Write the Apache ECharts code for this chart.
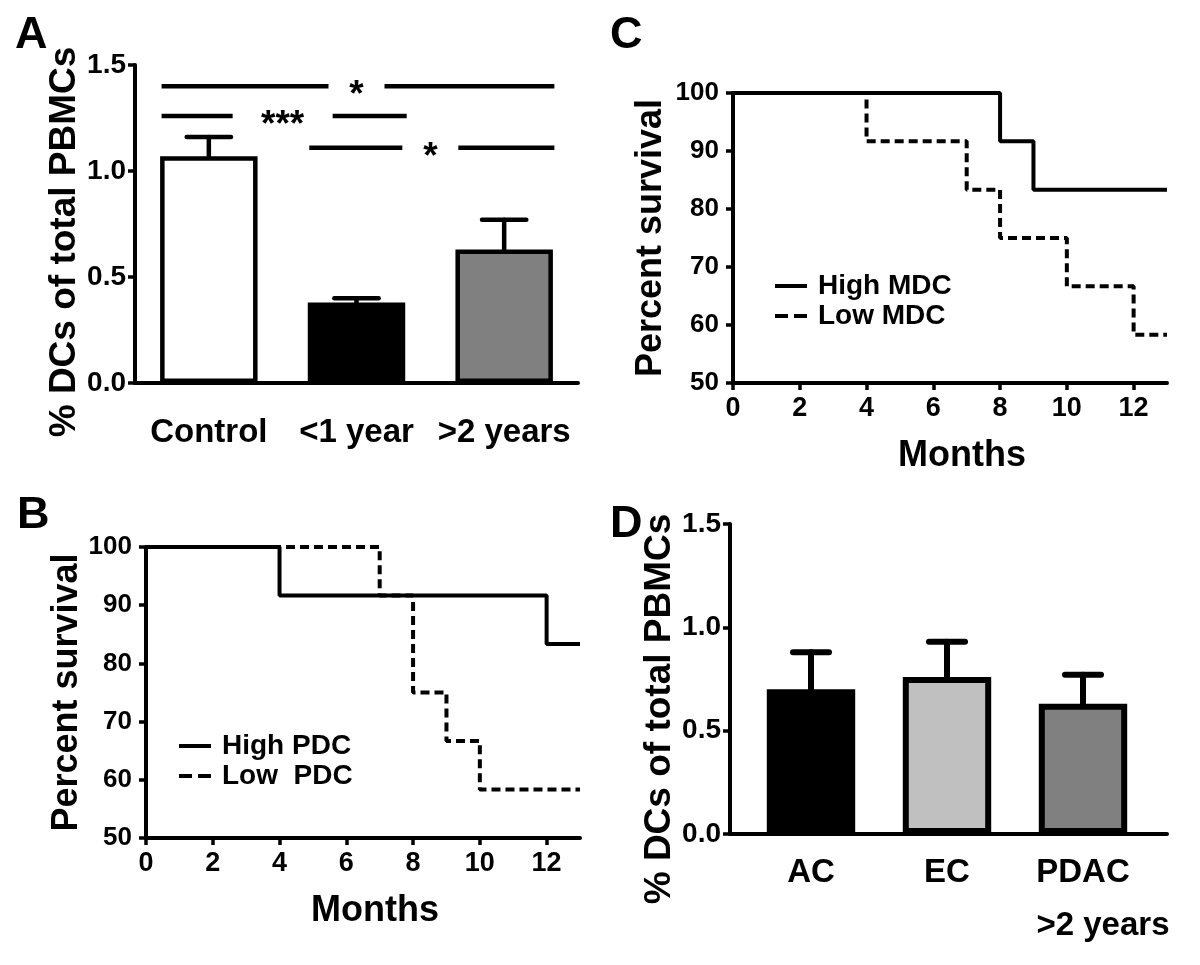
<!DOCTYPE html>
<html><head><meta charset="utf-8">
<script src="https://cdn.jsdelivr.net/npm/echarts@6/dist/echarts.min.js"></script>
<style>html,body{margin:0;padding:0;background:#fff}#c{width:1200px;height:965px}</style>
</head><body><div id="c"></div>
<script>
// ---------- Panel A data ----------
const catsA = ['Control', '<1 year', '>2 years'];
const meanA = [1.07, 0.38, 0.63];
const semA = [0.09, 0.02, 0.14];
const sigFrom = [0, 0, 1];
const sigTo = [2, 1, 2];
const sigY = [1.40, 1.26, 1.11];
const sigText = ['*', '***', '*'];
// ---------- Panel D data ----------
const catsD = ['AC', 'EC', 'PDAC'];
const catsDSub = ['', '', '>2 years'];
const meanD = [0.70, 0.76, 0.63];
const semD = [0.18, 0.17, 0.14];
// ---------- Panel B data (Kaplan-Meier: [month, % survival]) ----------
const highPDC = [[0, 100], [4, 91.67], [12, 83.33], [13, 83.33]];
const lowPDC = [[0, 100], [7, 91.67], [8, 75], [9, 66.67], [10, 58.33], [13, 58.33]];
// ---------- Panel C data ----------
const highMDC = [[0, 100], [8, 91.67], [9, 83.33], [13, 83.33]];
const lowMDC = [[0, 100], [4, 91.67], [7, 83.33], [8, 75], [10, 66.67], [12, 58.33], [13, 58.33]];
// ---------- ticks ----------
const monthTicks = [0, 2, 4, 6, 8, 10, 12];
const pctTicks = [0, 0.5, 1.0, 1.5];
const survTicks = [50, 60, 70, 80, 90, 100];

// ---------- styles ----------
const FONT = '"Liberation Sans", Arial, Helvetica, sans-serif';
const barColorsA = ['#ffffff', '#000000', '#808080'];
const barColorsD = ['#000000', '#c0c0c0', '#808080'];
const SOLID_ICON = 'rect';
const DASH_ICON = 'path://M0,0H13V4H0Z M19,0H32V4H19Z';

const chart = echarts.init(document.getElementById('c'), null, {renderer: 'canvas'});

function txt(size, extra) {
  return Object.assign({color: '#000', fontFamily: FONT, fontWeight: 'bold', fontSize: size}, extra || {});
}

function errRender(capFrac, lw) {
  return function (params, api) {
    const x = api.value(0), m = api.value(1), e = api.value(2);
    const p0 = api.coord([x, m]);
    const p1 = api.coord([x, m + e]);
    const half = api.size([1, 0])[0] * capFrac / 2;
    const st = {stroke: '#000', lineWidth: lw, lineCap: 'round'};
    return {type: 'group', children: [
      {type: 'line', shape: {x1: p0[0], y1: p0[1], x2: p1[0], y2: p1[1]}, style: st},
      {type: 'line', shape: {x1: p1[0] - half, y1: p1[1], x2: p1[0] + half, y2: p1[1]}, style: st}
    ]};
  };
}

function sigRender(params, api) {
  const i = params.dataIndex;
  const a = api.coord([sigFrom[i], sigY[i]]);
  const b = api.coord([sigTo[i], sigY[i]]);
  const band = api.size([1, 0])[0];
  const x1 = a[0] - band * 0.32;
  const x2 = b[0] + band * 0.34;
  const cx = (a[0] + b[0]) / 2;
  const half = 17 + 11 * sigText[i].length;
  const y = a[1];
  const st = {stroke: '#000', lineWidth: 4.5};
  return {type: 'group', children: [
    {type: 'line', shape: {x1: x1, y1: y, x2: cx - half, y2: y}, style: st},
    {type: 'line', shape: {x1: cx + half, y1: y, x2: x2, y2: y}, style: st},
    {type: 'text', style: {text: sigText[i], x: cx, y: y + 10, align: 'center', verticalAlign: 'middle',
      fill: '#000', font: 'bold 37px ' + FONT}}
  ]};
}

const axisLine = {show: true, onZero: false, lineStyle: {color: '#000', width: 4}};
const yTick = {show: true, inside: false, length: 7, lineStyle: {color: '#000', width: 3.5}};

function survX(grid) {
  return {type: 'value', gridIndex: grid, min: 0, max: 13, name: 'Months', nameLocation: 'middle', nameGap: 55,
    nameTextStyle: txt(36, {padding: [0, 0, 0, 24]}),
    axisLine: axisLine, splitLine: {show: false},
    axisTick: {show: true, length: 7, lineStyle: {color: '#000', width: 3.5}, customValues: monthTicks},
    axisLabel: Object.assign(txt(27), {margin: 12, customValues: monthTicks})};
}
function survY(grid, gap) {
  return {type: 'value', gridIndex: grid, min: 50, max: 100, interval: 10, name: 'Percent survival',
    nameLocation: 'middle', nameRotate: 90, nameGap: gap, nameTextStyle: txt(36),
    axisLine: axisLine, splitLine: {show: false}, axisTick: Object.assign({customValues: survTicks}, yTick),
    axisLabel: Object.assign(txt(26), {margin: 14, customValues: survTicks})};
}
function pctY(grid, gap, show, shift) {
  return {type: 'value', gridIndex: grid, min: 0, max: 1.5, interval: 0.5, show: show,
    name: show ? '% DCs of total PBMCs' : '', nameLocation: 'middle', nameRotate: 90, nameGap: gap,
    nameTextStyle: txt(37, {padding: [0, shift, 0, 0]}),
    axisLine: axisLine, splitLine: {show: false}, axisTick: Object.assign({customValues: pctTicks}, yTick),
    axisLabel: Object.assign(txt(28), {margin: 9, customValues: pctTicks, formatter: v => v.toFixed(1)})};
}

const legendCommon = {orient: 'vertical', itemWidth: 32, itemHeight: 4, itemGap: 0,
  textStyle: txt(28, {lineHeight: 30, padding: [0, 0, 0, 6]}), selectedMode: false};

const option = {
  animation: false,
  backgroundColor: '#fff',
  textStyle: {fontFamily: FONT},
  title: [
    {text: 'A', left: 10, top: 8, textStyle: txt(45)},
    {text: 'B', left: 12, top: 488, textStyle: txt(45)},
    {text: 'C', left: 605, top: 8, textStyle: txt(45)},
    {text: 'D', left: 605, top: 497, textStyle: txt(45)}
  ],
  legend: [
    Object.assign({data: [{name: 'High MDC', icon: SOLID_ICON}, {name: 'Low MDC', icon: DASH_ICON}],
      left: 770, top: 266}, legendCommon),
    Object.assign({data: [{name: 'High PDC', icon: SOLID_ICON}, {name: 'Low  PDC', icon: DASH_ICON}],
      left: 174, top: 726}, legendCommon)
  ],
  grid: [
    {left: 135, top: 65, width: 443, height: 318},   // A
    {left: 733, top: 93, width: 434, height: 290},   // C
    {left: 146, top: 547, width: 434, height: 291},  // B
    {left: 730, top: 524, width: 437, height: 310},  // D axes
    {left: 743, top: 524, width: 408, height: 310}   // D bars
  ],
  xAxis: [
    {type: 'category', gridIndex: 0, data: catsA, axisLine: axisLine, axisTick: {show: false},
      axisLabel: Object.assign(txt(33), {margin: 33, interval: 0})},
    survX(1),
    survX(2),
    {type: 'value', gridIndex: 3, min: 0, max: 1, axisLine: axisLine, axisTick: {show: false},
      axisLabel: {show: false}, splitLine: {show: false}},
    {type: 'category', gridIndex: 4, data: catsD, axisLine: {show: false}, axisTick: {show: false},
      axisLabel: Object.assign(txt(33, {lineHeight: 53}), {margin: 12, interval: 0,
        formatter: (v, i) => catsDSub[i] ? '{a|' + v + '}\n{b|' + catsDSub[i] + '}' : v,
        rich: {a: txt(33, {lineHeight: 53}), b: txt(33, {lineHeight: 53, padding: [0, 0, 0, 40]})}})}
  ],
  yAxis: [
    pctY(0, 52, true, 36),
    survY(1, 64),
    survY(2, 56),
    pctY(3, 50, true, 60),
    pctY(4, 50, false, 0)
  ],
  series: [
    // Panel A
    {type: 'custom', name: 'errA', xAxisIndex: 0, yAxisIndex: 0, z: 1, clip: false,
      renderItem: errRender(0.30, 4.5), data: meanA.map((m, i) => [i, m, semA[i]]), encode: {x: 0, y: 1}},
    {type: 'bar', name: 'barA', xAxisIndex: 0, yAxisIndex: 0, z: 2, barWidth: '66%',
      data: meanA.map((m, i) => ({value: m, itemStyle: {color: barColorsA[i]}})),
      itemStyle: {borderColor: '#000', borderWidth: 4.5}},
    {type: 'custom', name: 'sigA', xAxisIndex: 0, yAxisIndex: 0, z: 3, clip: false,
      renderItem: sigRender, data: sigY.map((y, i) => [sigFrom[i], y]), encode: {x: 0, y: 1}},
    // Panel C
    {type: 'line', name: 'Low MDC', xAxisIndex: 1, yAxisIndex: 1, data: lowMDC, step: 'end', symbol: 'none',
      color: '#000', lineStyle: {color: '#000', width: 4, type: [9, 5]}},
    {type: 'line', name: 'High MDC', xAxisIndex: 1, yAxisIndex: 1, data: highMDC, step: 'end', symbol: 'none',
      color: '#000', lineStyle: {color: '#000', width: 4}},
    // Panel B
    {type: 'line', name: 'Low  PDC', xAxisIndex: 2, yAxisIndex: 2, data: lowPDC, step: 'end', symbol: 'none',
      color: '#000', lineStyle: {color: '#000', width: 4, type: [9, 5]}},
    {type: 'line', name: 'High PDC', xAxisIndex: 2, yAxisIndex: 2, data: highPDC, step: 'end', symbol: 'none',
      color: '#000', lineStyle: {color: '#000', width: 4}},
    // Panel D
    {type: 'custom', name: 'errD', xAxisIndex: 4, yAxisIndex: 4, z: 1, clip: false,
      renderItem: errRender(0.265, 6), data: meanD.map((m, i) => [i, m, semD[i]]), encode: {x: 0, y: 1}},
    {type: 'bar', name: 'barD', xAxisIndex: 4, yAxisIndex: 4, z: 2, barWidth: '65%',
      data: meanD.map((m, i) => ({value: m, itemStyle: {color: barColorsD[i]}})),
      itemStyle: {borderColor: '#000', borderWidth: 6}}
  ]
};
chart.setOption(option);
</script>
</body></html>
